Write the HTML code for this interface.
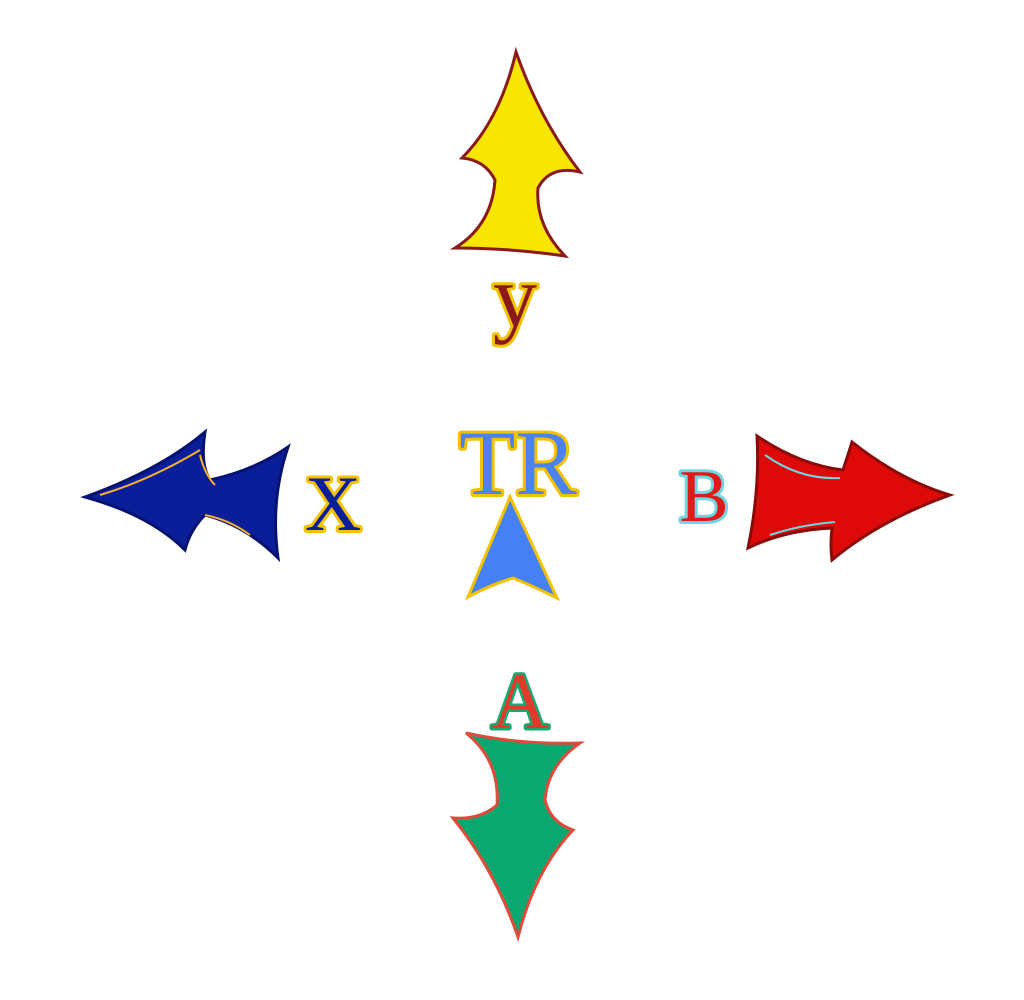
<!DOCTYPE html>
<html><head><meta charset="utf-8"><style>
html,body{margin:0;padding:0;background:#fff;width:1024px;height:1000px;overflow:hidden}
text{font-family:"Liberation Serif",serif;paint-order:stroke;stroke-linejoin:round}
</style></head><body>
<svg width="1024" height="1000" viewBox="0 0 1024 1000">
  <path d="M516 52 Q500 120 462 158 Q485 160 495 180 Q492 225 455 248 Q510 248 565 256 Q535 225 538 188 Q550 165 580 172 Q540 120 516 52 Z" fill="#f8e500" stroke="#8a1a1a" stroke-width="3"/>
  <text x="515" y="326" font-size="88" text-anchor="middle" fill="#8a1a1a" stroke="#f2c200" stroke-width="6">y</text>

  <path d="M85 497 Q160 470 205 432 Q200 465 210 480 Q255 470 288 447 Q270 500 278 558 Q245 525 205 515 Q190 530 185 550 Q150 515 85 497 Z" fill="#0b1e9a" stroke="#061270" stroke-width="3"/>
  <path d="M200 455 Q205 475 215 485 M205 515 Q230 520 250 535 M100 495 Q150 480 200 450" fill="none" stroke="#f2b02e" stroke-width="2"/>
  <text x="333" y="530" font-size="78" text-anchor="middle" fill="#0b1e9a" stroke="#f2c200" stroke-width="6">X</text>

  <text x="518" y="494" font-size="92" text-anchor="middle" fill="#4a82f0" stroke="#f2c200" stroke-width="6">TR</text>
  <path d="M510 497 L468 597 Q490 585 513 578 Q535 587 557 598 Z" fill="#4580f5" stroke="#f2c200" stroke-width="3"/>

  <path d="M757 436 Q800 465 843 470 Q848 455 852 442 Q900 480 950 495 Q880 520 832 560 Q830 545 832 528 Q785 530 748 548 Q760 490 757 436 Z" fill="#de0a0a" stroke="#8a0a0a" stroke-width="3"/>
  <path d="M765 455 Q800 480 840 478 M770 535 Q800 525 835 522" fill="none" stroke="#6fd7e0" stroke-width="2"/>
  <text x="704" y="521" font-size="74" text-anchor="middle" fill="#de1a1a" stroke="#6fd7e0" stroke-width="6">B</text>

  <text x="520" y="728" font-size="80" text-anchor="middle" fill="#e03a2a" stroke="#1aa870" stroke-width="5">A</text>
  <path d="M466 733 Q520 745 580 743 Q548 765 545 800 Q550 822 573 830 Q535 870 518 937 Q495 870 453 818 Q480 820 497 805 Q500 760 466 733 Z" fill="#08a870" stroke="#e04a3a" stroke-width="3"/>
</svg>
</body></html>
